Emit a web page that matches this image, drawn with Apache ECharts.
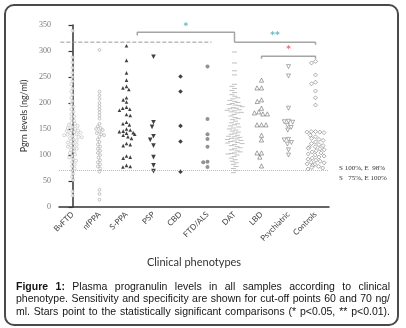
<!DOCTYPE html>
<html>
<head>
<meta charset="utf-8">
<script src="https://cdn.jsdelivr.net/npm/echarts@6.0.0/dist/echarts.min.js"></script>
<style>
  html, body { margin: 0; padding: 0; background: #fff; }
  #chart { width: 406px; height: 328px; }
</style>
</head>
<body>
<div id="chart"></div>
<script>
let categories = ['BvFTD', 'nfPPA', 'S-PPA', 'PSP', 'CBD', 'FTD/ALS', 'DAT', 'LBD', 'Psychiatric', 'Controls'];
let yTicks = [0, 50, 100, 150, 200, 250, 300, 350];

let bvftd = [339, 288, 278, 268, 258, 250, 242, 236, 228, 222, 216, 210, 204, 198, 193, 188, 183, 178, 174, 170,
    166, 162, 160, 158, 156, 154, 152, 150, 148, 147, 146, 144, 143, 142, 140, 139, 138, 136, 135, 134,
    132, 130, 128, 126, 124, 122, 120, 118, 116, 114, 112, 110, 107, 104, 101, 98, 95, 92, 89, 86,
    82, 78, 74, 70, 64, 58, 52, 30, 22];
let nfppa = [302, 222, 215, 208, 200, 194, 188, 182, 176, 170, 160, 155, 152, 150, 148, 145, 142, 140, 138, 135,
    130, 125, 120, 116, 112, 108, 104, 100, 95, 90, 86, 82, 78, 74, 68, 33, 25, 14];
let sppa = [310, 282, 258, 244, 232, 229, 226, 210, 206, 202, 192, 190, 188, 186, 178, 176, 163, 160, 158, 150,
    148, 146, 145, 143, 142, 140, 138, 135, 132, 122, 120, 118, 98, 96, 94, 80, 78, 77];
let psp = [289, 163, 154, 136, 129, 118, 96, 80, 69];
let cbd = [251, 222, 156, 126, 68];
let ftdAls = [270, 169, 140, 131, 116, 87, 86, 77];
let dat = [298, 277, 262, 254, 236, 232, 228, 224, 220, 216, 213, 210, 208, 205, 203, 201, 199, 197, 196, 195,
    193, 191, 190, 189, 187, 186, 185, 183, 182, 181, 178, 175, 172, 170, 168, 165, 162, 160, 158, 156,
    154, 152, 150, 148, 146, 144, 142, 140, 138, 136, 135, 134, 132, 131, 130, 128, 127, 126, 124, 123,
    122, 120, 118, 116, 114, 112, 110, 108, 106, 104, 103, 102, 100, 97, 94, 91, 88, 85, 82, 78, 74, 70, 66];
let lbd = [244, 229, 229, 206, 203, 190, 183, 179, 179, 181, 158, 158, 158, 138, 129, 104, 104, 96, 79];
let psychiatric = [270, 252, 190, 165, 164, 163, 157, 153, 148, 130, 129, 124, 121, 110, 100];
let controls = [280, 277, 254, 240, 237, 223, 210, 196, 145, 145, 144, 144, 143, 138, 135, 132, 130, 128, 125, 122,
    120, 118, 116, 115, 113, 112, 110, 108, 106, 104, 102, 100, 98, 96, 94, 92, 90, 88, 86, 85,
    83, 82, 80, 78, 76, 75, 73];

let groups = [bvftd, nfppa, sppa, psp, cbd, ftdAls, dat, lbd, psychiatric, controls];

// cut-off and significance brackets (x in category index units)
let cutOff = 70;
let refLine = { from: -0.45, to: 5.15, y: 317 };
let brackets = [
    { from: 2.4, to: 6, y: 336, dropL: 6, dropR: 19, text: '*', color: '#45a8b5' },
    { from: 6, to: 9, y: 317, dropL: 0, dropR: 5, text: '**', color: '#45a8b5' },
    { from: 7, to: 9, y: 290, dropL: 5, dropR: 5, text: '*', color: '#e0505a' }
];
let cutOffText = ['S 100%, E  98%', 'S   75%, E 100%'];

let triUp = 'path://M5,0L10,9L0,9Z';
let triDown = 'path://M0,0L10,0L5,9Z';
let diamond = 'path://M5,0L10,5L5,10L0,5Z';
let symbols = [
    { symbol: 'circle', size: 3, color: '#aaa', empty: true },
    { symbol: 'circle', size: 2.8, color: '#8a8a8a', empty: true },
    { symbol: triUp, size: 3.6, color: '#111' },
    { symbol: triDown, size: 4.6, color: '#111' },
    { symbol: diamond, size: 4.6, color: '#111' },
    { symbol: 'circle', size: 4, color: '#777' },
    { symbol: 'rect', size: [5, 1], color: '#b0b0b0' },
    { symbol: triUp, size: 4.2, color: '#444', empty: true },
    { symbol: triDown, size: 4, color: '#555', empty: true },
    { symbol: diamond, size: 4, color: '#555', empty: true }
];

let series = groups.map(function (vals, i) {
    let s = symbols[i];
    return {
        type: 'scatter',
        name: categories[i],
        data: vals.map(function (v) { return [categories[i], v]; }),
        symbol: s.symbol,
        symbolSize: s.size,
        itemStyle: s.empty
            ? { color: '#fff', borderColor: s.color, borderWidth: 0.6 }
            : { color: s.color, borderWidth: 0 },
        z: 3
    };
});

// cut-off dotted line
series[0].markLine = {
    silent: true,
    symbol: 'none',
    label: { show: false },
    lineStyle: { type: 'dotted', color: '#bbb', width: 1 },
    data: [{ yAxis: cutOff }]
};

// dashed reference line
series.push({
    type: 'line',
    xAxisIndex: 1,
    data: [[refLine.from, refLine.y], [refLine.to, refLine.y]],
    symbol: 'none',
    lineStyle: { type: 'dashed', color: '#999', width: 1 },
    silent: true
});

brackets.forEach(function (b) {
    let mid = (b.from + b.to) / 2;
    series.push({
        type: 'line',
        xAxisIndex: 1,
        data: [[b.from, b.y - b.dropL], [b.from, b.y], [mid, b.y], [mid, b.y + 3],
            [mid, b.y], [b.to, b.y], [b.to, b.y - b.dropR]],
        symbol: 'none',
        lineStyle: { color: '#a5a5a5', width: 1.5 },
        silent: true
    });
    series.push({
        type: 'scatter',
        xAxisIndex: 1,
        data: [[mid, b.y + 3]],
        symbolSize: 0,
        label: {
            show: true, position: 'top', distance: 0, formatter: b.text,
            color: b.color, fontSize: 9, fontWeight: 'bold', fontFamily: 'DejaVu Sans'
        },
        silent: true
    });
});

// caption, justified word by word
let ctx = document.createElement('canvas').getContext('2d');
function captionLine(words, y, x0, x1) {
    let fs = 10.5;
    let ws = words.map(function (w) {
        ctx.font = (w.b ? 'bold ' : '') + fs + 'px "Liberation Sans"';
        return ctx.measureText(w.t).width;
    });
    let total = ws.reduce(function (a, b) { return a + b; }, 0);
    let gap = (x1 - x0 - total) / (words.length - 1);
    let x = x0;
    return words.map(function (w, i) {
        let el = {
            type: 'text', x: x, y: y,
            style: {
                text: w.t, fill: '#151515', fontSize: fs, fontFamily: 'Liberation Sans',
                fontWeight: w.b ? 'bold' : 'normal', verticalAlign: 'middle'
            }
        };
        x += ws[i] + gap;
        return el;
    });
}
function words(str, boldCount) {
    return str.split(' ').map(function (t, i) { return { t: t, b: i < (boldCount || 0) }; });
}
let captionLines = [
    'Figure 1: Plasma progranulin levels in all samples according to clinical',
    'phenotype. Sensitivity and specificity are shown for cut-off points 60 and 70 ng/',
    'ml. Stars point to the statistically significant comparisons (* p<0.05, ** p<0.01).'
];
let graphic = [
    {
        type: 'rect', shape: { x: 5, y: 5, width: 393, height: 320, r: 9 },
        style: { fill: 'none', stroke: '#4a4a4a', lineWidth: 2 }
    },
    {
        type: 'text', x: 339, y: 168,
        style: { text: cutOffText[0], fontSize: 7, fontFamily: 'Liberation Serif', fill: '#333', verticalAlign: 'middle' }
    },
    {
        type: 'text', x: 339, y: 178,
        style: { text: cutOffText[1], fontSize: 7, fontFamily: 'Liberation Serif', fill: '#333', verticalAlign: 'middle' }
    }
];
graphic = graphic.concat(captionLine(words(captionLines[0], 2), 287, 16, 390));
graphic = graphic.concat(captionLine(words(captionLines[1]), 299.5, 16, 390));
graphic = graphic.concat(captionLine(words(captionLines[2]), 312, 16, 390));

let option = {
    animation: false,
    grid: { left: 59, right: 77, top: 25, bottom: 121 },
    xAxis: [
        {
            type: 'category',
            data: categories,
            jitter: 20,
            jitterOverlap: false,
            jitterMargin: 0.3,
            name: 'Clinical phenotypes',
            nameLocation: 'middle',
            nameGap: 50,
            nameTextStyle: { fontSize: 11, color: '#333', fontFamily: 'Lato' },
            axisLine: { lineStyle: { color: '#333', width: 1.5 } },
            axisTick: { alignWithLabel: true, length: 4, lineStyle: { color: '#333', width: 1.2 } },
            axisLabel: { rotate: 45, fontSize: 8, color: '#444', fontFamily: 'Lato', margin: 6, interval: 0 },
            splitLine: { show: false }
        },
        { type: 'value', min: -0.5, max: 9.5, show: false }
    ],
    yAxis: {
        type: 'value',
        min: yTicks[0],
        max: yTicks[yTicks.length - 1],
        interval: 50,
        name: 'Pgrn levels (ng/ml)',
        nameLocation: 'middle',
        nameGap: 28,
        nameTextStyle: { fontSize: 9, color: '#333', fontFamily: 'Lato' },
        axisLine: { show: true, lineStyle: { color: '#333', width: 1.5 } },
        axisTick: { show: true, length: 4, lineStyle: { color: '#333', width: 1.2 } },
        axisLabel: { fontSize: 8, color: '#777', fontFamily: 'Liberation Serif', margin: 8 },
        splitLine: { show: false }
    },
    graphic: graphic,
    series: series
};

let chart = echarts.init(document.getElementById('chart'));
chart.setOption(option);
</script>
</body>
</html>
